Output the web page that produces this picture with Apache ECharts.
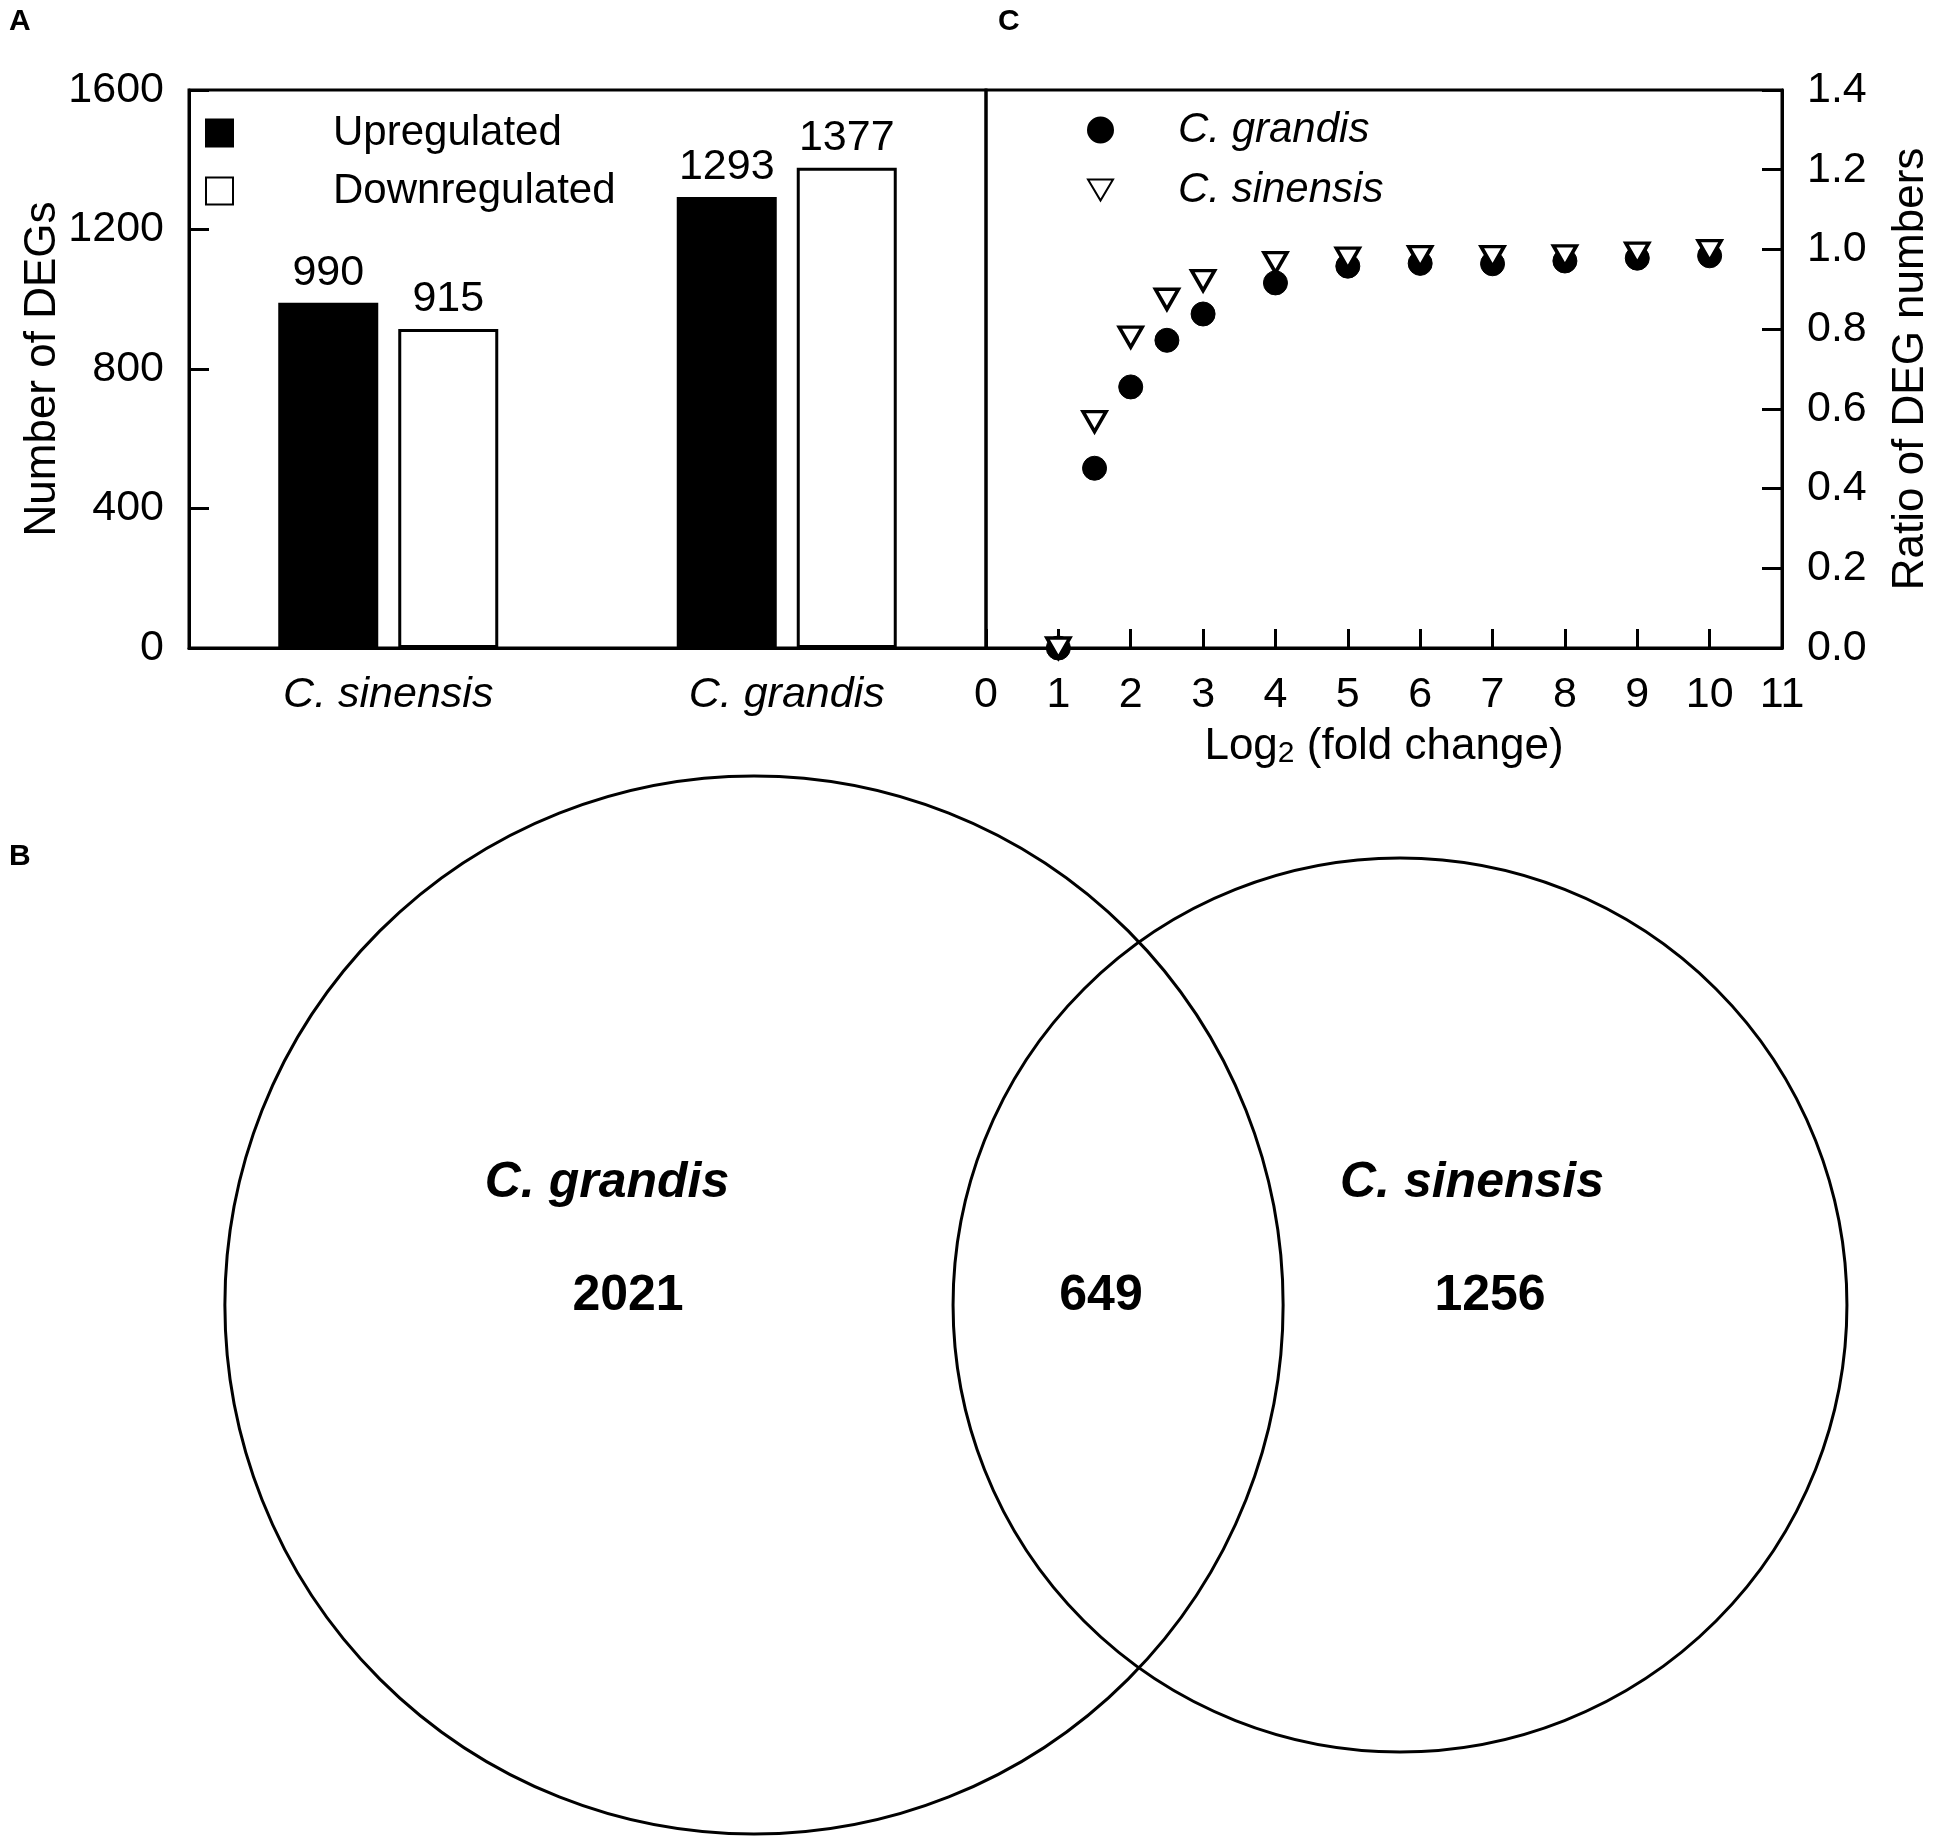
<!DOCTYPE html>
<html>
<head>
<meta charset="utf-8">
<script src="https://cdn.jsdelivr.net/npm/echarts@6/dist/echarts.min.js"></script>
<style>
html,body{margin:0;padding:0;background:#fff;}
#chart{width:1950px;height:1836px;}
</style>
</head>
<body>
<div id="chart"></div>
<script>
// ---------- data ----------
const barCategories = ['C. sinensis', 'C. grandis'];
const upregulated = [990, 1293];
const downregulated = [915, 1377];

const foldChange = [1, 1.5, 2, 2.5, 3, 4, 5, 6, 7, 8, 9, 10];
const ratioGrandis = [0, 0.451, 0.655, 0.772, 0.838, 0.916, 0.958, 0.965, 0.964, 0.971, 0.978, 0.984];
const ratioSinensis = [0, 0.568, 0.780, 0.875, 0.922, 0.967, 0.978, 0.982, 0.982, 0.984, 0.991, 0.997];

const vennSets = ['C. grandis', 'C. sinensis'];
const vennUnique = [2021, 1256];
const vennShared = 649;

// ---------- layout / style ----------
const FONT = "'Liberation Sans', Arial, Helvetica, sans-serif";
const VENN = {
  centers: [[754, 1305], [1400, 1305]],
  k: 10.24,               // radius = k * sqrt(set size)  (area proportional)
  nameX: [607, 1472], nameY: 1183,
  countX: [628, 1490], sharedX: 1101, countY: 1296
};
const triDown = 'path://M0,0L26,0L13,22Z';

const vennTotals = vennUnique.map(v => v + vennShared);

const chart = echarts.init(document.getElementById('chart'), null, {renderer: 'canvas'});

const axisLine = {show: true, onZero: false, lineStyle: {color: '#000', width: 3}};
const tickStyle = {color: '#000', width: 3};
const labelBase = {color: '#000', fontSize: 43, fontFamily: FONT};

const option = {
  animation: false,
  backgroundColor: '#fff',
  textStyle: {fontFamily: FONT, color: '#000'},
  title: [
    {text: 'A', left: 9, top: 7, padding: 0, textStyle: {fontSize: 30, fontWeight: 'bold', fontFamily: FONT, color: '#000'}},
    {text: 'C', left: 998, top: 7, padding: 0, textStyle: {fontSize: 30, fontWeight: 'bold', fontFamily: FONT, color: '#000'}},
    {text: 'B', left: 9, top: 842, padding: 0, textStyle: {fontSize: 30, fontWeight: 'bold', fontFamily: FONT, color: '#000'}}
  ],
  legend: [
    {
      data: ['Upregulated', 'Downregulated'],
      orient: 'vertical', left: 200, top: 105,
      itemWidth: 27, itemHeight: 27, itemGap: 12,
      icon: 'rect', selectedMode: false,
      textStyle: {fontSize: 42, lineHeight: 46, color: '#000', fontFamily: FONT, padding: [0, 0, 0, 95]}
    },
    {
      data: ['C. grandis', 'C. sinensis'],
      orient: 'vertical', left: 1082, top: 102,
      itemWidth: 25, itemHeight: 25, itemGap: 14,
      selectedMode: false,
      textStyle: {fontSize: 42, lineHeight: 46, color: '#000', fontFamily: FONT, fontStyle: 'italic', padding: [0, 0, 0, 60]}
    }
  ],
  grid: [
    {left: 189, top: 90, width: 797, height: 558, show: true, borderColor: '#000', borderWidth: 3, containLabel: false},
    {left: 986, top: 90, width: 796, height: 558, show: true, borderColor: '#000', borderWidth: 3, containLabel: false},
    {left: 0, top: 0, width: 1950, height: 1836, show: false, containLabel: false}
  ],
  xAxis: [
    {
      gridIndex: 0, type: 'category', data: barCategories,
      axisLine: axisLine, axisTick: {show: false},
      axisLabel: Object.assign({}, labelBase, {fontStyle: 'italic', margin: 26}),
      splitLine: {show: false}
    },
    {
      gridIndex: 1, type: 'value', min: 0, max: 11, interval: 1,
      axisLine: axisLine,
      axisTick: {show: true, inside: true, length: 19, lineStyle: tickStyle},
      axisLabel: Object.assign({}, labelBase, {margin: 26}),
      splitLine: {show: false},
      name: '{a|Log}{b|2}{a| (fold change)}',
      nameLocation: 'middle', nameGap: 77,
      nameTextStyle: {
        color: '#000', fontFamily: FONT,
        rich: {
          a: {fontSize: 44, lineHeight: 44, color: '#000', fontFamily: FONT},
          b: {fontSize: 30, lineHeight: 14, verticalAlign: 'bottom', color: '#000', fontFamily: FONT}
        }
      }
    },
    {gridIndex: 2, type: 'value', min: 0, max: 1950, show: false}
  ],
  yAxis: [
    {
      gridIndex: 0, type: 'value', min: 0, max: 1600, interval: 400,
      axisLine: axisLine,
      axisTick: {show: true, inside: true, length: 20, lineStyle: tickStyle},
      axisLabel: Object.assign({}, labelBase, {margin: 25, formatter: v => String(v)}),
      splitLine: {show: false},
      name: 'Number of DEGs', nameLocation: 'middle', nameGap: 97, nameRotate: 90,
      nameTextStyle: {fontSize: 44, color: '#000', fontFamily: FONT}
    },
    {
      gridIndex: 1, type: 'value', position: 'right', min: 0, max: 1.4, interval: 0.2,
      axisLine: axisLine,
      axisTick: {show: true, inside: true, length: 20, lineStyle: tickStyle},
      axisLabel: Object.assign({}, labelBase, {margin: 25, formatter: v => v.toFixed(1)}),
      splitLine: {show: false},
      name: 'Ratio of DEG numbers', nameLocation: 'middle', nameGap: 107, nameRotate: 90,
      nameTextStyle: {fontSize: 44, color: '#000', fontFamily: FONT}
    },
    {gridIndex: 2, type: 'value', min: 0, max: 1836, inverse: true, show: false}
  ],
  series: [
    {
      name: 'Upregulated', type: 'bar', xAxisIndex: 0, yAxisIndex: 0,
      data: upregulated, barWidth: 100, barGap: '20%',
      itemStyle: {color: '#000', borderColor: '#000', borderWidth: 3},
      label: {show: true, position: 'top', distance: 8, fontSize: 43, color: '#000', fontFamily: FONT}
    },
    {
      name: 'Downregulated', type: 'bar', xAxisIndex: 0, yAxisIndex: 0,
      data: downregulated, barWidth: 100, barGap: '20%',
      itemStyle: {color: '#fff', borderColor: '#000', borderWidth: 3},
      label: {show: true, position: 'top', distance: 8, fontSize: 43, color: '#000', fontFamily: FONT}
    },
    {
      name: 'C. grandis', type: 'scatter', xAxisIndex: 1, yAxisIndex: 1,
      data: foldChange.map((x, i) => [x, ratioGrandis[i]]),
      symbol: 'circle', symbolSize: 24,
      itemStyle: {color: '#000', borderColor: '#000', borderWidth: 1, opacity: 1},
      z: 3
    },
    {
      name: 'C. sinensis', type: 'scatter', xAxisIndex: 1, yAxisIndex: 1,
      data: foldChange.map((x, i) => [x, ratioSinensis[i]]),
      symbol: triDown, symbolSize: [23, 20],
      itemStyle: {color: '#fff', borderColor: '#000', borderWidth: 3.5, opacity: 1},
      z: 4
    },
    {
      name: 'venn-sets', type: 'custom', xAxisIndex: 2, yAxisIndex: 2,
      data: vennSets.map((n, i) => [i, vennTotals[i], vennUnique[i]]),
      silent: true,
      renderItem: function (params, api) {
        const i = api.value(0);
        const c = api.coord(VENN.centers[i]);
        const r = api.size([VENN.k * Math.sqrt(api.value(1)), 0])[0];
        const np = api.coord([VENN.nameX[i], VENN.nameY]);
        const cp = api.coord([VENN.countX[i], VENN.countY]);
        return {
          type: 'group',
          children: [
            {type: 'circle', shape: {cx: c[0], cy: c[1], r: r},
             style: {fill: 'none', stroke: '#000', lineWidth: 3}},
            {type: 'text', x: np[0], y: np[1], z2: 10,
             style: {text: vennSets[i], fill: '#000', align: 'center', verticalAlign: 'middle',
                     font: 'italic bold 50px ' + FONT}},
            {type: 'text', x: cp[0], y: cp[1], z2: 10,
             style: {text: String(api.value(2)), fill: '#000', align: 'center', verticalAlign: 'middle',
                     font: 'bold 50px ' + FONT}}
          ]
        };
      }
    },
    {
      name: 'venn-shared', type: 'custom', xAxisIndex: 2, yAxisIndex: 2,
      data: [[vennShared]],
      silent: true,
      renderItem: function (params, api) {
        const p = api.coord([VENN.sharedX, VENN.countY]);
        return {type: 'text', x: p[0], y: p[1],
                style: {text: String(api.value(0)), fill: '#000', align: 'center', verticalAlign: 'middle',
                        font: 'bold 50px ' + FONT}};
      }
    }
  ]
};
chart.setOption(option);
</script>
</body>
</html>
